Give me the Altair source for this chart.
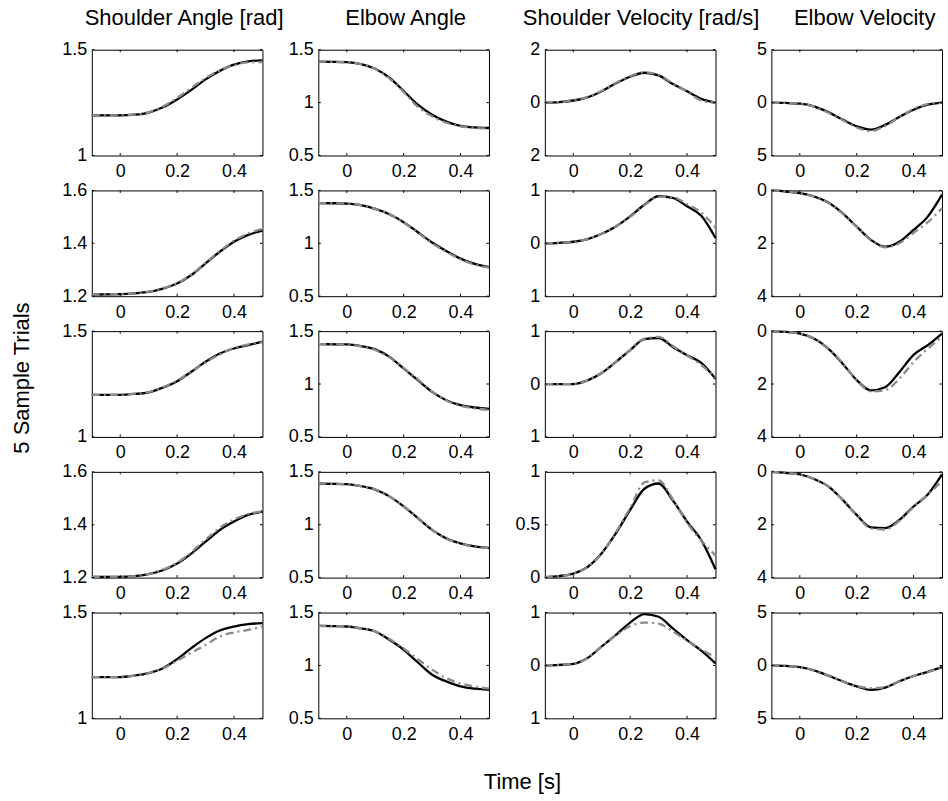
import altair as alt
import pandas as pd

# ---------------- data ----------------
TIME = [-0.1, -0.05, 0.0, 0.05, 0.1, 0.15, 0.2, 0.25, 0.3, 0.35, 0.4, 0.45, 0.5]
X_TICKS = [0, 0.2, 0.4]
X_DOMAIN = [-0.1, 0.5]
COLUMN_TITLES = ["Shoulder Angle [rad]", "Elbow Angle", "Shoulder Velocity [rad/s]", "Elbow Velocity"]
ROW_LABEL = "5 Sample Trials"
X_LABEL = "Time [s]"

# y tick values per trial (shoulder angle, elbow angle, shoulder velocity, elbow velocity)
Y_TICKS_1 = [[1, 1.5], [0.5, 1, 1.5], [-2, 0, 2], [-5, 0, 5]]
Y_TICKS_2 = [[1.2, 1.4, 1.6], [0.5, 1, 1.5], [-1, 0, 1], [-4, -2, 0]]
Y_TICKS_3 = [[1, 1.5], [0.5, 1, 1.5], [-1, 0, 1], [-4, -2, 0]]
Y_TICKS_4 = [[1.2, 1.4, 1.6], [0.5, 1, 1.5], [0, 0.5, 1], [-4, -2, 0]]
Y_TICKS_5 = [[1, 1.5], [0.5, 1, 1.5], [-1, 0, 1], [-5, 0, 5]]

# trial 1
t1_sa_actual = [1.19, 1.19, 1.19, 1.193, 1.203, 1.228, 1.265, 1.31, 1.36, 1.40, 1.43, 1.445, 1.45]
t1_sa_model = [1.19, 1.19, 1.19, 1.193, 1.204, 1.232, 1.272, 1.32, 1.366, 1.402, 1.428, 1.44, 1.442]
t1_ea_actual = [1.387, 1.386, 1.383, 1.365, 1.32, 1.235, 1.11, 0.98, 0.885, 0.82, 0.78, 0.765, 0.76]
t1_ea_model = [1.387, 1.386, 1.383, 1.364, 1.318, 1.23, 1.1, 0.96, 0.87, 0.81, 0.775, 0.76, 0.755]
t1_sv_actual = [0.0, 0.02, 0.08, 0.2, 0.43, 0.73, 0.98, 1.13, 1.03, 0.70, 0.43, 0.14, 0.0]
t1_sv_model = [0.0, 0.02, 0.08, 0.21, 0.45, 0.75, 1.0, 1.15, 1.05, 0.72, 0.42, 0.08, 0.0]
t1_ev_actual = [0.0, -0.03, -0.1, -0.35, -0.9, -1.6, -2.25, -2.55, -2.1, -1.35, -0.67, -0.2, 0.0]
t1_ev_model = [0.0, -0.03, -0.1, -0.38, -0.95, -1.65, -2.35, -2.7, -2.2, -1.38, -0.6, -0.15, 0.0]

# trial 2
t2_sa_actual = [1.206, 1.207, 1.208, 1.211, 1.216, 1.229, 1.248, 1.28, 1.324, 1.368, 1.406, 1.432, 1.448]
t2_sa_model = [1.206, 1.207, 1.208, 1.211, 1.217, 1.230, 1.25, 1.282, 1.326, 1.37, 1.41, 1.437, 1.455]
t2_ea_actual = [1.38, 1.379, 1.376, 1.36, 1.325, 1.275, 1.2, 1.105, 1.008, 0.928, 0.855, 0.805, 0.774]
t2_ea_model = [1.38, 1.379, 1.376, 1.36, 1.326, 1.274, 1.198, 1.1, 1.0, 0.92, 0.85, 0.8, 0.77]
t2_sv_actual = [0.0, 0.01, 0.03, 0.08, 0.18, 0.32, 0.51, 0.73, 0.89, 0.86, 0.70, 0.52, 0.1]
t2_sv_model = [0.0, 0.01, 0.03, 0.08, 0.18, 0.32, 0.5, 0.72, 0.88, 0.87, 0.74, 0.58, 0.3]
t2_ev_actual = [0.0, -0.04, -0.1, -0.23, -0.46, -0.86, -1.37, -1.87, -2.13, -1.94, -1.49, -0.99, -0.16]
t2_ev_model = [0.0, -0.04, -0.1, -0.23, -0.47, -0.87, -1.38, -1.88, -2.15, -2.0, -1.6, -1.2, -0.67]

# trial 3
t3_sa_actual = [1.199, 1.199, 1.199, 1.203, 1.211, 1.233, 1.263, 1.308, 1.355, 1.394, 1.418, 1.434, 1.45]
t3_sa_model = [1.199, 1.199, 1.199, 1.203, 1.212, 1.235, 1.266, 1.31, 1.352, 1.39, 1.42, 1.437, 1.448]
t3_ea_actual = [1.377, 1.376, 1.374, 1.358, 1.327, 1.257, 1.147, 1.036, 0.926, 0.847, 0.80, 0.778, 0.765]
t3_ea_model = [1.377, 1.376, 1.374, 1.355, 1.322, 1.252, 1.15, 1.045, 0.93, 0.845, 0.795, 0.77, 0.755]
t3_sv_actual = [0.0, 0.0, 0.0, 0.07, 0.21, 0.42, 0.64, 0.85, 0.87, 0.70, 0.545, 0.40, 0.1]
t3_sv_model = [0.0, 0.0, 0.0, 0.07, 0.21, 0.42, 0.64, 0.86, 0.89, 0.72, 0.54, 0.36, 0.12]
t3_ev_actual = [0.0, -0.03, -0.09, -0.28, -0.66, -1.22, -1.85, -2.24, -2.12, -1.55, -0.90, -0.53, -0.09]
t3_ev_model = [0.0, -0.03, -0.09, -0.28, -0.65, -1.2, -1.85, -2.28, -2.23, -1.80, -1.17, -0.66, -0.21]

# trial 4
t4_sa_actual = [1.2025, 1.2025, 1.203, 1.206, 1.213, 1.228, 1.253, 1.291, 1.336, 1.38, 1.412, 1.437, 1.45]
t4_sa_model = [1.2025, 1.2025, 1.203, 1.206, 1.214, 1.23, 1.256, 1.296, 1.344, 1.388, 1.42, 1.44, 1.45]
t4_ea_actual = [1.389, 1.387, 1.383, 1.365, 1.332, 1.268, 1.173, 1.062, 0.951, 0.871, 0.824, 0.795, 0.78]
t4_ea_model = [1.389, 1.387, 1.383, 1.365, 1.333, 1.27, 1.176, 1.065, 0.952, 0.87, 0.822, 0.793, 0.778]
t4_sv_actual = [0.005, 0.015, 0.038, 0.1, 0.23, 0.42, 0.64, 0.84, 0.89, 0.73, 0.53, 0.355, 0.08]
t4_sv_model = [0.005, 0.015, 0.038, 0.1, 0.23, 0.43, 0.66, 0.90, 0.92, 0.74, 0.52, 0.35, 0.21]
t4_ev_actual = [0.0, -0.04, -0.1, -0.27, -0.55, -1.05, -1.63, -2.1, -2.13, -1.82, -1.31, -0.86, -0.1]
t4_ev_model = [0.0, -0.04, -0.1, -0.27, -0.55, -1.05, -1.64, -2.14, -2.18, -1.85, -1.33, -0.86, -0.36]

# trial 5
t5_sa_actual = [1.195, 1.195, 1.195, 1.202, 1.214, 1.237, 1.28, 1.332, 1.379, 1.415, 1.434, 1.445, 1.45]
t5_sa_model = [1.195, 1.195, 1.195, 1.202, 1.214, 1.236, 1.272, 1.31, 1.347, 1.387, 1.406, 1.418, 1.434]
t5_ea_actual = [1.374, 1.372, 1.368, 1.35, 1.321, 1.242, 1.148, 1.028, 0.912, 0.849, 0.802, 0.78, 0.77]
t5_ea_model = [1.374, 1.372, 1.368, 1.35, 1.322, 1.25, 1.16, 1.06, 0.96, 0.88, 0.83, 0.8, 0.78]
t5_sv_actual = [0.0, 0.01, 0.03, 0.14, 0.36, 0.58, 0.81, 0.97, 0.92, 0.70, 0.48, 0.28, 0.04]
t5_sv_model = [0.0, 0.01, 0.03, 0.14, 0.36, 0.57, 0.74, 0.81, 0.79, 0.64, 0.47, 0.3, 0.16]
t5_ev_actual = [0.0, -0.05, -0.16, -0.47, -0.97, -1.5, -1.98, -2.32, -2.1, -1.5, -1.0, -0.6, -0.16]
t5_ev_model = [0.0, -0.05, -0.16, -0.47, -0.97, -1.5, -1.95, -2.14, -2.05, -1.5, -1.0, -0.62, -0.2]

TRIALS = [
    ([t1_sa_actual, t1_ea_actual, t1_sv_actual, t1_ev_actual],
     [t1_sa_model, t1_ea_model, t1_sv_model, t1_ev_model], Y_TICKS_1),
    ([t2_sa_actual, t2_ea_actual, t2_sv_actual, t2_ev_actual],
     [t2_sa_model, t2_ea_model, t2_sv_model, t2_ev_model], Y_TICKS_2),
    ([t3_sa_actual, t3_ea_actual, t3_sv_actual, t3_ev_actual],
     [t3_sa_model, t3_ea_model, t3_sv_model, t3_ev_model], Y_TICKS_3),
    ([t4_sa_actual, t4_ea_actual, t4_sv_actual, t4_ev_actual],
     [t4_sa_model, t4_ea_model, t4_sv_model, t4_ev_model], Y_TICKS_4),
    ([t5_sa_actual, t5_ea_actual, t5_sv_actual, t5_ev_actual],
     [t5_sa_model, t5_ea_model, t5_sv_model, t5_ev_model], Y_TICKS_5),
]

# ---------------- style ----------------
W, H = 171, 106
FONT = "Liberation Sans"
TITLE_DX = [7, 2, 11, 8]
TICK_LEN = 2.5


def panel(actual, model, yticks, r, c):
    n = len(TIME)
    lines = pd.DataFrame({
        "t": TIME + TIME,
        "v": actual + model,
        "kind": ["actual"] * n + ["model"] * n,
    })
    xt = pd.DataFrame({"t": X_TICKS})
    yt = pd.DataFrame({"v": yticks})

    x_axis_kw = dict(values=X_TICKS, labelExpr="format(datum.value, '~g')",
                     labelFlush=False, title=None)
    if r == 4 and c == 1:
        x_axis_kw.update(title=X_LABEL, titleX=204, titleY=70,
                         titleBaseline="alphabetic", titleAlign="center")
    y_axis_kw = dict(values=yticks, labelExpr="format(abs(datum.value), '~g')",
                     labelFlush=False, title=None)
    if r == 2 and c == 0:
        y_axis_kw.update(title=ROW_LABEL, titleX=-63.5, titleY=46.5,
                         titleAngle=270, titleBaseline="alphabetic", titleAlign="center")

    X = alt.X("t:Q", scale=alt.Scale(domain=X_DOMAIN, nice=False, zero=False),
              axis=alt.Axis(**x_axis_kw))
    Y = alt.Y("v:Q", scale=alt.Scale(domain=[yticks[0], yticks[-1]], nice=False, zero=False),
              axis=alt.Axis(**y_axis_kw))

    base = alt.Chart(lines)
    black = base.transform_filter(alt.datum.kind == "actual").mark_line(
        color="black", strokeWidth=2.3, interpolate="monotone").encode(x=X, y=Y)
    gray = base.transform_filter(alt.datum.kind == "model").mark_line(
        color="#8a8a8a", strokeWidth=2.3, strokeDash=[8, 4, 2, 4],
        interpolate="monotone").encode(x=X, y=Y)

    tick_style = dict(color="black", strokeWidth=1)
    xb = alt.Chart(xt).mark_rule(**tick_style).encode(
        x=X, y=alt.value(H), y2=alt.value(H - TICK_LEN))
    xtp = alt.Chart(xt).mark_rule(**tick_style).encode(
        x=X, y=alt.value(0), y2=alt.value(TICK_LEN))
    yl = alt.Chart(yt).mark_rule(**tick_style).encode(
        y=Y, x=alt.value(0), x2=alt.value(TICK_LEN))
    yr = alt.Chart(yt).mark_rule(**tick_style).encode(
        y=Y, x=alt.value(W - TICK_LEN), x2=alt.value(W))

    layer = alt.layer(black, gray, xb, xtp, yl, yr)
    if r == 0:
        layer = layer.properties(
            width=W, height=H,
            title=alt.TitleParams(COLUMN_TITLES[c], fontSize=22, font=FONT,
                                  fontWeight="normal", color="black", anchor="middle",
                                  frame="group", baseline="alphabetic", offset=-6,
                                  dx=TITLE_DX[c]))
    else:
        layer = layer.properties(width=W, height=H)
    return layer


panels = []
for r, (acts, mods, yts) in enumerate(TRIALS):
    for c in range(4):
        panels.append(panel(acts[c], mods[c], yts[c], r, c))

chart = alt.ConcatChart(
    concat=panels, columns=4, spacing={"row": 35, "column": 56}, bounds="flush"
).properties(
    padding={"left": 9, "top": 5, "right": 0, "bottom": 0},
    background="white",
).configure_view(
    stroke="black", strokeWidth=1
).configure_axis(
    labelFont=FONT, labelFontSize=18, labelColor="black",
    titleFont=FONT, titleFontSize=22, titleFontWeight="normal", titleColor="black",
    ticks=False, domain=False, grid=False,
).configure_axisX(
    labelPadding=7
).configure_axisY(
    labelPadding=5
)

chart.save("out.html", embed_options={"renderer": "svg", "actions": False})
